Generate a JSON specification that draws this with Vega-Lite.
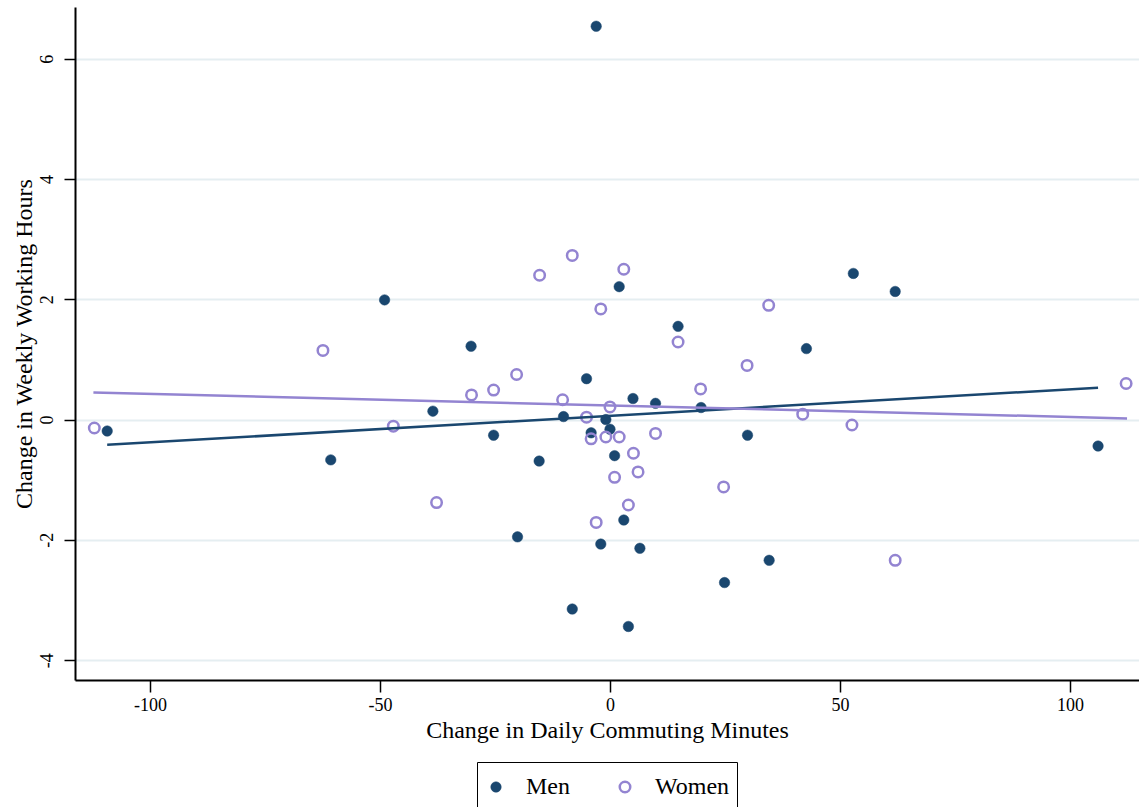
{
  "$schema": "https://vega.github.io/schema/vega-lite/v6.json",
  "width": 1064,
  "height": 673,
  "autosize": {"type": "none"},
  "padding": {"left": 75, "top": 7, "right": 0, "bottom": 127},
  "background": "white",
  "config": {
    "view": {"stroke": null},
    "font": "Liberation Serif",
    "axis": {
      "labelFont": "Liberation Serif",
      "titleFont": "Liberation Serif",
      "labelFontSize": 18,
      "titleFontSize": 24,
      "titleFontWeight": "normal",
      "labelColor": "black",
      "titleColor": "black",
      "domainColor": "black",
      "domainWidth": 2,
      "tickColor": "black",
      "tickWidth": 1.5
    },
    "legend": {
      "labelFont": "Liberation Serif"
    }
  },
  "datasets": {
    "pts": [
      {"sex": "Men", "commute": -109.3, "hours": -0.19},
      {"sex": "Men", "commute": -60.7, "hours": -0.67},
      {"sex": "Men", "commute": -49.0, "hours": 1.99},
      {"sex": "Men", "commute": -30.2, "hours": 1.22},
      {"sex": "Men", "commute": -38.5, "hours": 0.14},
      {"sex": "Men", "commute": -25.3, "hours": -0.26},
      {"sex": "Men", "commute": -15.4, "hours": -0.69},
      {"sex": "Men", "commute": -20.1, "hours": -1.95},
      {"sex": "Men", "commute": -8.2, "hours": -3.15},
      {"sex": "Men", "commute": -10.1, "hours": 0.05},
      {"sex": "Men", "commute": -5.1, "hours": 0.68},
      {"sex": "Men", "commute": -4.1, "hours": -0.22},
      {"sex": "Men", "commute": -0.9, "hours": 0.0},
      {"sex": "Men", "commute": 0.0, "hours": -0.16},
      {"sex": "Men", "commute": 1.0, "hours": -0.6},
      {"sex": "Men", "commute": -2.0, "hours": -2.07},
      {"sex": "Men", "commute": 3.0, "hours": -1.67},
      {"sex": "Men", "commute": 6.5, "hours": -2.14},
      {"sex": "Men", "commute": 4.0, "hours": -3.44},
      {"sex": "Men", "commute": 5.0, "hours": 0.35},
      {"sex": "Men", "commute": 9.9, "hours": 0.27},
      {"sex": "Men", "commute": 19.8, "hours": 0.2},
      {"sex": "Men", "commute": 29.9, "hours": -0.26},
      {"sex": "Men", "commute": 24.9, "hours": -2.71},
      {"sex": "Men", "commute": 34.6, "hours": -2.34},
      {"sex": "Men", "commute": 14.8, "hours": 1.55},
      {"sex": "Men", "commute": 2.0, "hours": 2.21},
      {"sex": "Men", "commute": -3.0, "hours": 6.54},
      {"sex": "Men", "commute": 42.7, "hours": 1.18},
      {"sex": "Men", "commute": 52.9, "hours": 2.43},
      {"sex": "Men", "commute": 62.0, "hours": 2.13},
      {"sex": "Men", "commute": 106.1, "hours": -0.44},
      {"sex": "Women", "commute": -112.1, "hours": -0.14},
      {"sex": "Women", "commute": -62.4, "hours": 1.15},
      {"sex": "Women", "commute": -47.1, "hours": -0.11},
      {"sex": "Women", "commute": -37.7, "hours": -1.38},
      {"sex": "Women", "commute": -30.1, "hours": 0.41},
      {"sex": "Women", "commute": -25.3, "hours": 0.49},
      {"sex": "Women", "commute": -20.3, "hours": 0.75},
      {"sex": "Women", "commute": -10.3, "hours": 0.33},
      {"sex": "Women", "commute": -5.1, "hours": 0.04},
      {"sex": "Women", "commute": -4.1, "hours": -0.32},
      {"sex": "Women", "commute": -0.9, "hours": -0.29},
      {"sex": "Women", "commute": 2.0, "hours": -0.29},
      {"sex": "Women", "commute": 0.0, "hours": 0.21},
      {"sex": "Women", "commute": 5.1, "hours": -0.56},
      {"sex": "Women", "commute": 6.1, "hours": -0.87},
      {"sex": "Women", "commute": 1.0, "hours": -0.96},
      {"sex": "Women", "commute": 4.0, "hours": -1.42},
      {"sex": "Women", "commute": -3.0, "hours": -1.71},
      {"sex": "Women", "commute": 9.9, "hours": -0.23},
      {"sex": "Women", "commute": 14.8, "hours": 1.29},
      {"sex": "Women", "commute": 19.7, "hours": 0.51},
      {"sex": "Women", "commute": 29.8, "hours": 0.9},
      {"sex": "Women", "commute": 24.7, "hours": -1.12},
      {"sex": "Women", "commute": -2.0, "hours": 1.84},
      {"sex": "Women", "commute": 34.5, "hours": 1.9},
      {"sex": "Women", "commute": -15.3, "hours": 2.4},
      {"sex": "Women", "commute": -8.2, "hours": 2.73},
      {"sex": "Women", "commute": 3.0, "hours": 2.5},
      {"sex": "Women", "commute": 41.9, "hours": 0.09},
      {"sex": "Women", "commute": 52.6, "hours": -0.09},
      {"sex": "Women", "commute": 62.0, "hours": -2.34},
      {"sex": "Women", "commute": 112.2, "hours": 0.6}
    ],
    "fits": [
      {"sex": "Men", "commute": -109.3, "hours": -0.42},
      {"sex": "Men", "commute": 106.1, "hours": 0.53},
      {"sex": "Women", "commute": -112.3, "hours": 0.45},
      {"sex": "Women", "commute": 112.4, "hours": 0.02}
    ]
  },
  "encoding": {
    "x": {
      "field": "commute",
      "type": "quantitative",
      "scale": {"domain": [-116.3, 115], "nice": false, "zero": false},
      "axis": {
        "title": "Change in Daily Commuting Minutes",
        "values": [-100, -50, 0, 50, 100],
        "labelExpr": "datum.value + ''",
        "grid": false,
        "tickSize": 12,
        "labelPadding": 4,
        "titlePadding": 4
      }
    },
    "y": {
      "field": "hours",
      "type": "quantitative",
      "scale": {"domain": [-4.33, 6.86], "nice": false, "zero": false},
      "axis": {
        "title": "Change in Weekly Working Hours",
        "values": [-4, -2, 0, 2, 4, 6],
        "labelExpr": "datum.value + ''",
        "grid": true,
        "gridColor": "#e5eef1",
        "gridWidth": 2,
        "tickSize": 11,
        "labelAngle": -90,
        "labelAlign": "center",
        "labelBaseline": "bottom",
        "labelPadding": 8,
        "titlePadding": 2
      }
    }
  },
  "layer": [
    {
      "data": {"name": "pts"},
      "mark": {"type": "point", "shape": "circle", "size": 110, "opacity": 1},
      "encoding": {
        "fill": {
          "field": "sex",
          "type": "nominal",
          "scale": {"domain": ["Men", "Women"], "range": ["#1a476f", "transparent"]},
          "legend": {
            "title": null,
            "orient": "none",
            "legendX": 402,
            "legendY": 755,
            "direction": "horizontal",
            "strokeColor": "black",
            "fillColor": "white",
            "padding": 7,
            "clipHeight": 36,
            "labelFontSize": 24,
            "labelColor": "black",
            "symbolSize": 110,
            "symbolStrokeWidth": 2.2,
            "labelOffset": 18,
            "columnPadding": 43
          }
        },
        "stroke": {
          "field": "sex",
          "type": "nominal",
          "scale": {"domain": ["Men", "Women"], "range": ["#1a476f", "#9384d1"]},
          "legend": {
            "title": null,
            "orient": "none",
            "legendX": 402,
            "legendY": 755,
            "direction": "horizontal",
            "strokeColor": "black",
            "fillColor": "white",
            "padding": 7,
            "clipHeight": 36,
            "labelFontSize": 24,
            "labelColor": "black",
            "symbolSize": 110,
            "symbolStrokeWidth": 2.2,
            "labelOffset": 18,
            "columnPadding": 43
          }
        },
        "strokeWidth": {
          "field": "sex",
          "type": "nominal",
          "scale": {"domain": ["Men", "Women"], "range": [0.5, 2.5]},
          "legend": null
        }
      }
    },
    {
      "data": {"name": "fits"},
      "transform": [{"filter": "datum.sex === 'Men'"}],
      "mark": {"type": "line", "color": "#1a476f", "strokeWidth": 2.5},
      "encoding": {}
    },
    {
      "data": {"name": "fits"},
      "transform": [{"filter": "datum.sex === 'Women'"}],
      "mark": {"type": "line", "color": "#9384d1", "strokeWidth": 2.5},
      "encoding": {}
    }
  ]
}
